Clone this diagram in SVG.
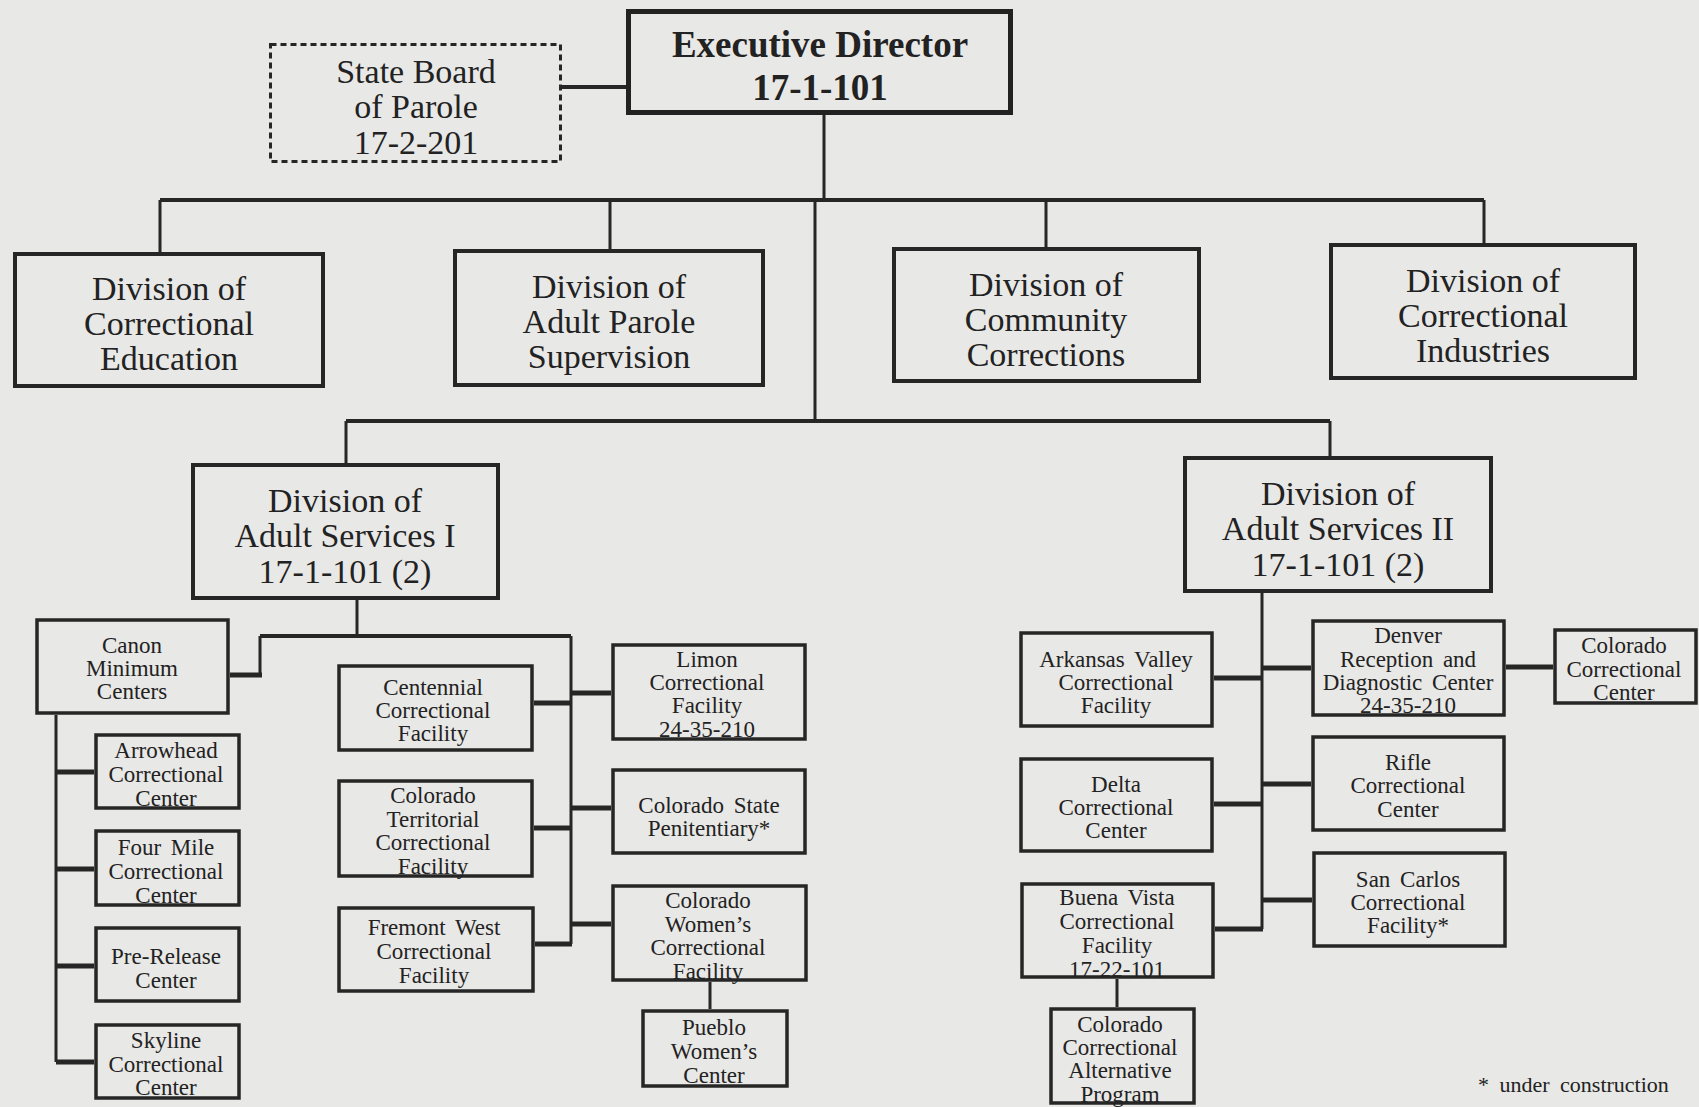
<svg xmlns="http://www.w3.org/2000/svg" width="1699" height="1107" viewBox="0 0 1699 1107">
<style>
.bg{fill:#e8e8e6}
.box{fill:none;stroke:#262626;stroke-width:4}
.sbox{fill:none;stroke:#262626;stroke-width:3.5}
.ebox{fill:none;stroke:#222;stroke-width:5}
.dbox{fill:none;stroke:#262626;stroke-width:3;stroke-dasharray:6 4}
text{font-family:"Liberation Serif","Times New Roman",serif;fill:#222;text-anchor:middle}
.ex{font-size:37px;font-weight:bold}
.bd{font-size:34px}
.lg{font-size:34px}
.sm{font-size:23px}
.ws{word-spacing:4px}
.c{fill:none;stroke:#262626;stroke-width:3}
.cb{fill:none;stroke:#262626;stroke-width:4}
.cs{fill:none;stroke:#262626;stroke-width:5}
</style>
<rect class="bg" x="0" y="0" width="1699" height="1107"/>
<g id="connectors">
<path class="cb" d="M562 87 H626"/>
<path class="c" d="M824 115 V200"/>
<path class="cb" d="M160 200 H1484"/>
<path class="c" d="M160 200 V252 M610 200 V249 M1046 200 V247 M1484 200 V243"/>
<path class="c" d="M815 200 V421"/>
<path class="cb" d="M346 421 H1330"/>
<path class="c" d="M346 421 V463 M1330 421 V456"/>
<path class="c" d="M357 600 V636"/>
<path class="cb" d="M260 636 H571"/>
<path class="c" d="M260 636 V675 M571 636 V944"/>
<path class="cs" d="M230 675 H262"/>
<path class="c" d="M56 715 V1062"/>
<path class="cs" d="M56 772 H94 M56 869 H94 M56 966 H94 M56 1062 H94"/>
<path class="cs" d="M534 703 H572 M534 828 H572 M535 944 H572"/>
<path class="cs" d="M572 693 H611 M572 808 H611 M572 924 H611"/>
<path class="c" d="M710 982 V1009"/>
<path class="c" d="M1262 593 V929"/>
<path class="cs" d="M1214 678 H1262 M1214 804 H1262 M1215 929 H1263"/>
<path class="cs" d="M1262 668 H1311 M1262 784 H1311 M1262 900 H1312"/>
<path class="cs" d="M1506 667 H1553"/>
<path class="c" d="M1117 979 V1007"/>
</g>
<g id="exec"><rect class="ebox" x="628.5" y="11.5" width="382" height="101"/>
<text class="ex" x="820" y="57">Executive Director</text><text class="ex" x="820" y="100">17-1-101</text></g>
<g id="board"><rect class="dbox" x="270.5" y="44.5" width="290" height="117"/>
<text class="bd" x="416" y="83">State Board</text><text class="bd" x="416" y="118">of Parole</text><text class="bd" x="416" y="154">17-2-201</text></g>
<g id="edu"><rect class="box" x="15" y="254" width="308" height="132"/>
<text class="lg" x="169" y="300">Division of</text><text class="lg" x="169" y="335">Correctional</text><text class="lg" x="169" y="370">Education</text></g>
<g id="parole"><rect class="box" x="455" y="251" width="308" height="134"/>
<text class="lg" x="609" y="298">Division of</text><text class="lg" x="609" y="333">Adult Parole</text><text class="lg" x="609" y="368">Supervision</text></g>
<g id="community"><rect class="box" x="894" y="249" width="305" height="132"/>
<text class="lg" x="1046" y="296">Division of</text><text class="lg" x="1046" y="331">Community</text><text class="lg" x="1046" y="366">Corrections</text></g>
<g id="industries"><rect class="box" x="1331" y="245" width="304" height="133"/>
<text class="lg" x="1483" y="292">Division of</text><text class="lg" x="1483" y="327">Correctional</text><text class="lg" x="1483" y="362">Industries</text></g>
<g id="asi"><rect class="box" x="193" y="465" width="305" height="133"/>
<text class="lg" x="345" y="512">Division of</text><text class="lg" x="345" y="547">Adult Services I</text><text class="lg" x="345" y="583">17-1-101 (2)</text></g>
<g id="asii"><rect class="box" x="1185" y="458" width="306" height="133"/>
<text class="lg" x="1338" y="505">Division of</text><text class="lg" x="1338" y="540">Adult Services II</text><text class="lg" x="1338" y="576">17-1-101 (2)</text></g>
<g id="canon"><rect class="sbox" x="37" y="620" width="191" height="93"/>
<text class="sm" x="132" y="653">Canon</text><text class="sm" x="132" y="676">Minimum</text><text class="sm" x="132" y="699">Centers</text></g>
<g id="arrowhead"><rect class="sbox" x="96" y="735" width="143" height="73"/>
<text class="sm" x="166" y="758">Arrowhead</text><text class="sm" x="166" y="782">Correctional</text><text class="sm" x="166" y="806">Center</text></g>
<g id="fourmile"><rect class="sbox" x="96" y="831" width="143" height="74"/>
<text class="sm ws" x="166" y="855">Four Mile</text><text class="sm" x="166" y="879">Correctional</text><text class="sm" x="166" y="903">Center</text></g>
<g id="prerelease"><rect class="sbox" x="96" y="928" width="143" height="73"/>
<text class="sm" x="166" y="964">Pre-Release</text><text class="sm" x="166" y="988">Center</text></g>
<g id="skyline"><rect class="sbox" x="96" y="1025" width="143" height="73"/>
<text class="sm" x="166" y="1048">Skyline</text><text class="sm" x="166" y="1072">Correctional</text><text class="sm" x="166" y="1095">Center</text></g>
<g id="centennial"><rect class="sbox" x="339" y="666" width="193" height="84"/>
<text class="sm" x="433" y="695">Centennial</text><text class="sm" x="433" y="718">Correctional</text><text class="sm" x="433" y="741">Facility</text></g>
<g id="territorial"><rect class="sbox" x="339" y="781" width="193" height="95"/>
<text class="sm" x="433" y="803">Colorado</text><text class="sm" x="433" y="827">Territorial</text><text class="sm" x="433" y="850">Correctional</text><text class="sm" x="433" y="874">Facility</text></g>
<g id="fremont"><rect class="sbox" x="339" y="908" width="194" height="83"/>
<text class="sm ws" x="434" y="935">Fremont West</text><text class="sm" x="434" y="959">Correctional</text><text class="sm" x="434" y="983">Facility</text></g>
<g id="limon"><rect class="sbox" x="613" y="645" width="192" height="94"/>
<text class="sm" x="707" y="667">Limon</text><text class="sm" x="707" y="690">Correctional</text><text class="sm" x="707" y="713">Facility</text><text class="sm" x="707" y="737">24-35-210</text></g>
<g id="csp"><rect class="sbox" x="613" y="770" width="192" height="83"/>
<text class="sm ws" x="709" y="813">Colorado State</text><text class="sm" x="709" y="836">Penitentiary*</text></g>
<g id="cwcf"><rect class="sbox" x="613" y="886" width="193" height="94"/>
<text class="sm" x="708" y="908">Colorado</text><text class="sm" x="708" y="932">Women’s</text><text class="sm" x="708" y="955">Correctional</text><text class="sm" x="708" y="979">Facility</text></g>
<g id="pueblo"><rect class="sbox" x="643" y="1011" width="144" height="75"/>
<text class="sm" x="714" y="1035">Pueblo</text><text class="sm" x="714" y="1059">Women’s</text><text class="sm" x="714" y="1083">Center</text></g>
<g id="arkansas"><rect class="sbox" x="1021" y="633" width="191" height="93"/>
<text class="sm ws" x="1116" y="667">Arkansas Valley</text><text class="sm" x="1116" y="690">Correctional</text><text class="sm" x="1116" y="713">Facility</text></g>
<g id="delta"><rect class="sbox" x="1021" y="759" width="191" height="92"/>
<text class="sm" x="1116" y="792">Delta</text><text class="sm" x="1116" y="815">Correctional</text><text class="sm" x="1116" y="838">Center</text></g>
<g id="buena"><rect class="sbox" x="1022" y="884" width="191" height="93"/>
<text class="sm ws" x="1117" y="905">Buena Vista</text><text class="sm" x="1117" y="929">Correctional</text><text class="sm" x="1117" y="953">Facility</text><text class="sm" x="1117" y="977">17-22-101</text></g>
<g id="ccap"><rect class="sbox" x="1051" y="1009" width="143" height="94"/>
<text class="sm" x="1120" y="1032">Colorado</text><text class="sm" x="1120" y="1055">Correctional</text><text class="sm" x="1120" y="1078">Alternative</text><text class="sm" x="1120" y="1102">Program</text></g>
<g id="denver"><rect class="sbox" x="1313" y="621" width="191" height="94"/>
<text class="sm" x="1408" y="643">Denver</text><text class="sm ws" x="1408" y="667">Reception and</text><text class="sm ws" x="1408" y="690">Diagnostic Center</text><text class="sm" x="1408" y="713">24-35-210</text></g>
<g id="ccc"><rect class="sbox" x="1555" y="630" width="141" height="73"/>
<text class="sm" x="1624" y="653">Colorado</text><text class="sm" x="1624" y="677">Correctional</text><text class="sm" x="1624" y="700">Center</text></g>
<g id="rifle"><rect class="sbox" x="1313" y="737" width="191" height="93"/>
<text class="sm" x="1408" y="770">Rifle</text><text class="sm" x="1408" y="793">Correctional</text><text class="sm" x="1408" y="817">Center</text></g>
<g id="sancarlos"><rect class="sbox" x="1314" y="853" width="191" height="93"/>
<text class="sm ws" x="1408" y="887">San Carlos</text><text class="sm" x="1408" y="910">Correctional</text><text class="sm" x="1408" y="933">Facility*</text></g>
<text x="1478" y="1092" style="font-size:22px;text-anchor:start;word-spacing:5px">* under construction</text>
</svg>
